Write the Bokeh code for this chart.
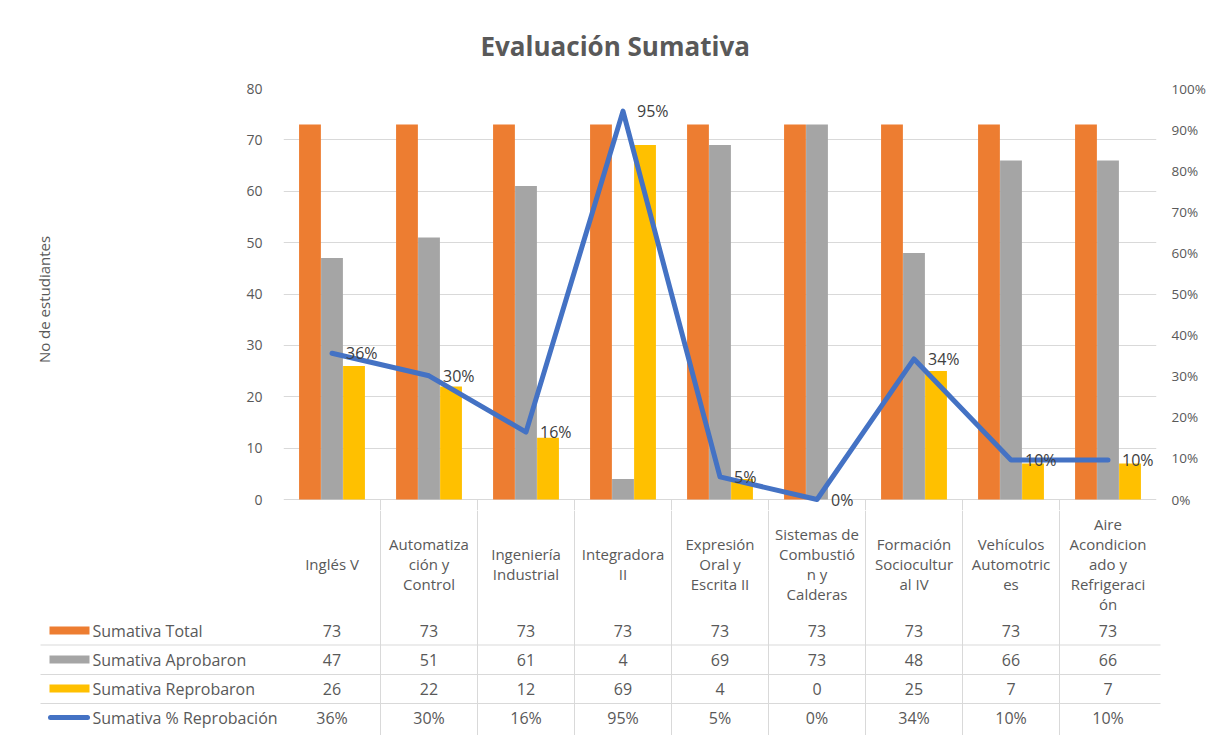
from bokeh.plotting import figure
from bokeh.models import (FactorRange, Range1d, LinearAxis, FixedTicker,
                          NumeralTickFormatter, ColumnDataSource)
from bokeh.transform import dodge
from bokeh.embed import file_html
from bokeh.resources import INLINE
from bokeh.core.properties import value

# ---------------- data ----------------
categories = ["Inglés V", "Automatización y Control", "Ingeniería Industrial",
              "Integradora II", "Expresión Oral y Escrita II",
              "Sistemas de Combustión y Calderas", "Formación Sociocultural IV",
              "Vehículos Automotrices", "Aire Acondicionado y Refrigeración"]
category_labels = ["Inglés V", "Automatiza\nción y\nControl", "Ingeniería\nIndustrial",
                   "Integradora\nII", "Expresión\nOral y\nEscrita II",
                   "Sistemas de\nCombustió\nn y\nCalderas", "Formación\nSociocultur\nal IV",
                   "Vehículos\nAutomotric\nes", "Aire\nAcondicion\nado y\nRefrigeraci\nón"]
sumativa_total = [73, 73, 73, 73, 73, 73, 73, 73, 73]
sumativa_aprobaron = [47, 51, 61, 4, 69, 73, 48, 66, 66]
sumativa_reprobaron = [26, 22, 12, 69, 4, 0, 25, 7, 7]
pct_reprobacion = [0.356, 0.301, 0.164, 0.945, 0.055, 0.0, 0.342, 0.096, 0.096]
pct_labels = ["36%", "30%", "16%", "95%", "5%", "0%", "34%", "10%", "10%"]
series_names = ["Sumativa Total", "Sumativa Aprobaron", "Sumativa Reprobaron",
                "Sumativa % Reprobación"]
left_ticks = [0, 10, 20, 30, 40, 50, 60, 70, 80]
right_ticks = [0.0, 0.1, 0.2, 0.3, 0.4, 0.5, 0.6, 0.7, 0.8, 0.9, 1.0]

# ---------------- styling / layout ----------------
FONT = "Open Sans"
TXT = "#595959"
ORANGE, GRAY, GOLD, BLUE = "#ED7D31", "#A5A5A5", "#FFC000", "#4472C4"
GRID = "#D9D9D9"
W = 1217
FRAME_L, FRAME_R = 283, 1156
FRAME_T, ZERO_Y = 87, 499          # page y of the 80 line and of the 0 line
EXT = 11                            # frame continues a little below the 0 line
CAT_W = (FRAME_R - FRAME_L) / len(categories)
H_A = ZERO_Y + EXT
H_B = 735 - H_A
Y_MAX = 80
y_lo = -Y_MAX * EXT / (ZERO_Y - FRAME_T)
pct_lo = -EXT / (ZERO_Y - FRAME_T)

# ---------------- chart ----------------
p = figure(width=W, height=H_A, x_range=FactorRange(factors=categories),
           y_range=Range1d(y_lo, Y_MAX), output_backend="svg",
           toolbar_location=None, x_axis_location=None,
           min_border_left=FRAME_L, min_border_right=W - FRAME_R,
           min_border_top=FRAME_T, min_border_bottom=0,
           title="Evaluación  Sumativa")
p.outline_line_color = None
p.title.align = "left"
p.title.offset = 197
p.title.text_font = FONT
p.title.text_font_size = "26px"
p.title.text_font_style = "bold"
p.title.text_color = TXT
p.title.standoff = 50

p.xgrid.grid_line_color = None
p.ygrid.grid_line_color = GRID
p.ygrid.ticker = FixedTicker(ticks=left_ticks)

ax = p.yaxis[0]
ax.ticker = FixedTicker(ticks=left_ticks)
ax.axis_line_color = None
ax.major_tick_line_color = None
ax.minor_tick_line_color = None
ax.major_label_standoff = 15
ax.major_label_text_font = FONT
ax.major_label_text_font_size = "14px"
ax.major_label_text_color = TXT
ax.axis_label = "No de estudiantes"
ax.axis_label_text_font = FONT
ax.axis_label_text_font_size = "15px"
ax.axis_label_text_font_style = "normal"
ax.axis_label_text_color = TXT
ax.axis_label_standoff = 189

p.extra_y_ranges = {"pct": Range1d(pct_lo, 1)}
rax = LinearAxis(y_range_name="pct", ticker=FixedTicker(ticks=right_ticks),
                 formatter=NumeralTickFormatter(format="0%"))
rax.axis_line_color = None
rax.major_tick_line_color = None
rax.minor_tick_line_color = None
rax.major_label_standoff = 9
rax.major_label_text_font = FONT
rax.major_label_text_font_size = "13.5px"
rax.major_label_text_color = TXT
p.add_layout(rax, "right")

src = ColumnDataSource(dict(cat=categories, total=sumativa_total,
                            apro=sumativa_aprobaron, repro=sumativa_reprobaron,
                            pct=pct_reprobacion, lab=pct_labels))
bw = 0.225
p.vbar(x=dodge("cat", -0.227, range=p.x_range), top="total", width=bw,
       color=ORANGE, line_color=None, source=src)
p.vbar(x=dodge("cat", 0.0, range=p.x_range), top="apro", width=bw,
       color=GRAY, line_color=None, source=src)
p.vbar(x=dodge("cat", 0.227, range=p.x_range), top="repro", width=bw,
       color=GOLD, line_color=None, source=src)
# table column separators start right under the axis
sep_src = ColumnDataSource(dict(cat=categories[:-1]))
p.segment(x0=dodge("cat", 0.5, range=p.x_range), x1=dodge("cat", 0.5, range=p.x_range),
          y0=0, y1=y_lo, line_color=GRID, line_width=1, source=sep_src)
p.line(x="cat", y="pct", y_range_name="pct", source=src, color=BLUE,
       line_width=5, line_join="round", line_cap="round")
p.text(x="cat", y="pct", text="lab", y_range_name="pct", source=src,
       x_offset=14, text_align="left", text_baseline="middle",
       text_font=value(FONT), text_font_size="16px", text_color="#404040")

# ---------------- data table ----------------
def px(xpage):
    return (xpage - FRAME_L) / CAT_W

n = len(categories)
t = figure(width=W, height=H_B, x_range=Range1d(px(0), px(W)),
           y_range=Range1d(H_A + H_B, H_A), output_backend="svg",
           toolbar_location=None, x_axis_location=None, y_axis_location=None,
           min_border_left=0, min_border_right=0, min_border_top=0,
           min_border_bottom=0)
t.outline_line_color = None
t.xgrid.grid_line_color = None
t.ygrid.grid_line_color = None

centers = [i + 0.5 for i in range(n)]
bounds = list(range(1, n))
t.segment(x0=bounds, x1=bounds, y0=[H_A] * (n - 1), y1=[H_A + H_B] * (n - 1),
          line_color=GRID, line_width=1)

header_y = 563
row_y = [630, 659, 688, 717]
sep_y = [644.5, 674, 703]
t.segment(x0=[px(40)] * 3, x1=[px(1160)] * 3, y0=sep_y, y1=sep_y,
          line_color=GRID, line_width=1)

t.text(x=centers, y=[header_y] * n, text=category_labels, text_align="center",
       text_baseline="middle", text_font=value(FONT), text_font_size="15px",
       text_color=TXT, text_line_height=1.0)

rows = [[str(v) for v in sumativa_total],
        [str(v) for v in sumativa_aprobaron],
        [str(v) for v in sumativa_reprobaron],
        pct_labels]
for r, vals in enumerate(rows):
    t.text(x=centers, y=[row_y[r]] * n, text=vals, text_align="center",
           text_baseline="middle", text_font=value(FONT), text_font_size="16px",
           text_color=TXT)

# row keys and names
t.text(x=[px(92)] * 4, y=row_y, text=series_names, text_align="left",
       text_baseline="middle", text_font=value(FONT), text_font_size="16px",
       text_color=TXT)
t.quad(left=[px(49)] * 3, right=[px(89)] * 3,
       top=[y - 4 for y in row_y[:3]], bottom=[y + 4 for y in row_y[:3]],
       color=[ORANGE, GRAY, GOLD], line_color=None)
t.segment(x0=[px(50)], x1=[px(87)], y0=[row_y[3]], y1=[row_y[3]],
          line_color=BLUE, line_width=5, line_cap="round")

open("out.html", "w").write(file_html([p, t], INLINE))
